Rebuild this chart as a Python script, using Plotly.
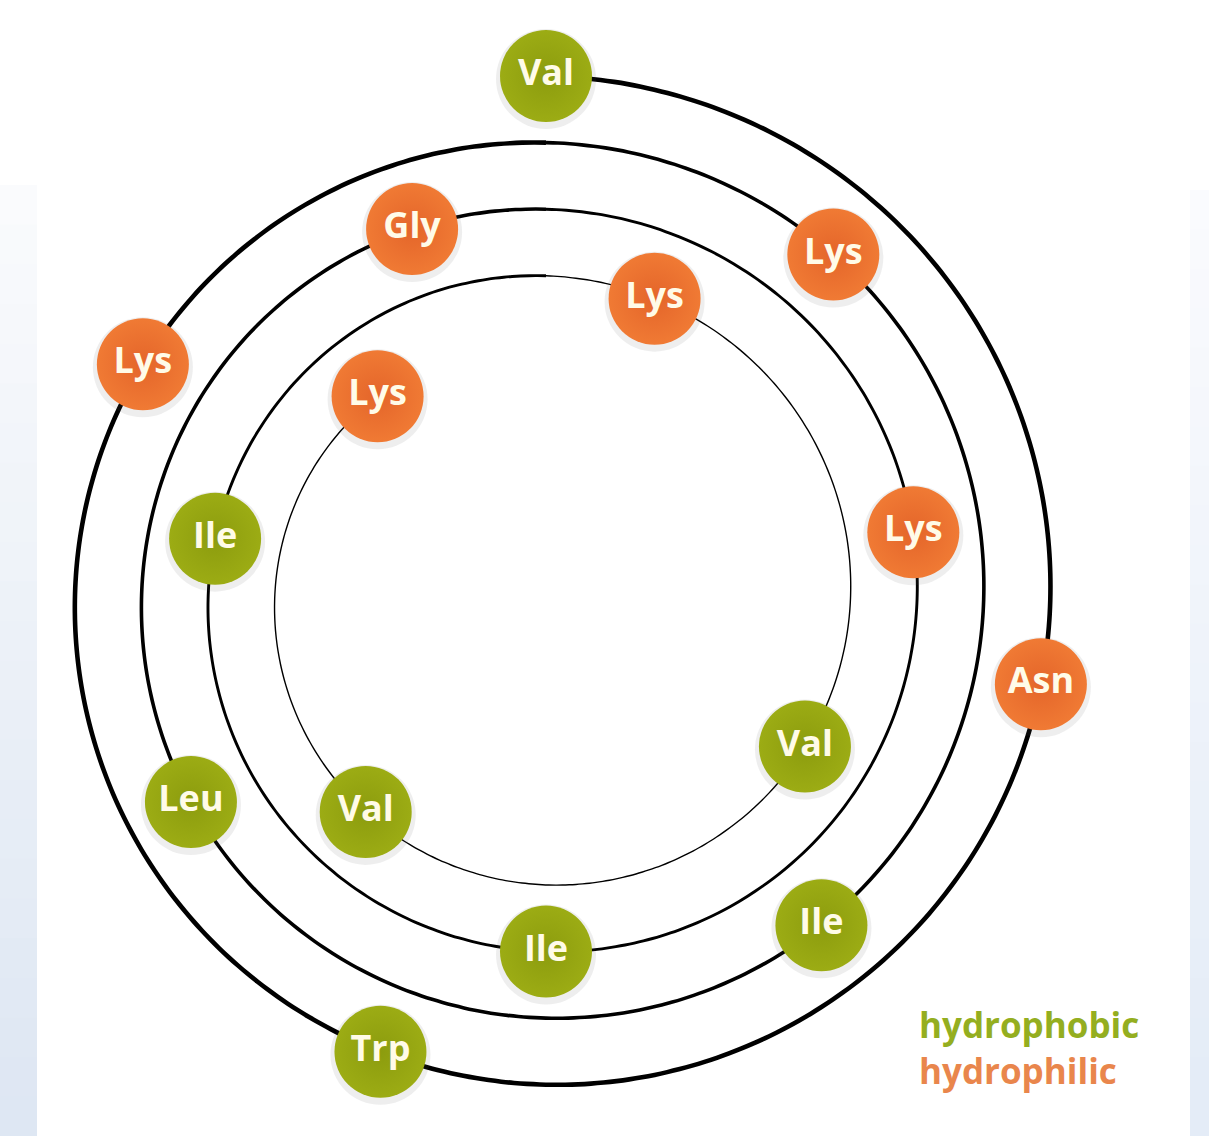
import numpy as np
import plotly.graph_objects as go

# ---- data ----
residues = ["Val", "Asn", "Trp", "Lys", "Lys", "Ile", "Leu", "Gly",
            "Lys", "Ile", "Ile", "Lys", "Val", "Val", "Lys"]
residue_class = ["hydrophobic", "hydrophilic", "hydrophobic", "hydrophilic",
                 "hydrophilic", "hydrophobic", "hydrophobic", "hydrophilic",
                 "hydrophilic", "hydrophobic", "hydrophobic", "hydrophilic",
                 "hydrophobic", "hydrophobic", "hydrophilic"]
legend_labels = ["hydrophobic", "hydrophilic"]
step_deg = 100  # helical wheel rotation per residue

# ---- geometry / style ----
W, H = 1209, 1136
CX, CY = 546, 597
R0 = 521
K = 0.185  # px of radius lost per degree
FILL = {"hydrophobic": "#9cac14", "hydrophilic": "#f07a34"}
EDGE = {"hydrophobic": "#8c9c0e", "hydrophilic": "#e4652a"}
TEXTCOL = {"hydrophobic": "#94ae20", "hydrophilic": "#e9864c"}


def spiral_xy(theta_deg):
    t = np.asarray(theta_deg, dtype=float)
    r = R0 - K * t
    a = np.radians(t)
    return CX + r * np.sin(a), CY - r * np.cos(a)


fig = go.Figure()

# background strips (soft gradient)
shapes = []
nb = 24
for side in ("left", "right"):
    if side == "left":
        x0, x1, y0 = 0, 37, 185
        c_top, c_bot = np.array([250, 251, 253]), np.array([222, 231, 243])
    else:
        x0, x1, y0 = 1190, W, 190
        c_top, c_bot = np.array([250, 251, 254]), np.array([228, 236, 247])
    edges = np.linspace(y0, H, nb + 1)
    for j in range(nb):
        f = j / (nb - 1)
        c = (c_top * (1 - f) + c_bot * f).astype(int)
        shapes.append(dict(type="rect", xref="x", yref="y", x0=x0, x1=x1,
                           y0=edges[j], y1=edges[j + 1] + 1, line=dict(width=0),
                           fillcolor=f"rgb({c[0]},{c[1]},{c[2]})", layer="below"))

# spiral line, thinner on each inner turn
theta_end = step_deg * (len(residues) - 1)
turn_widths = [4.6, 3.6, 2.9, 1.4]
for ti, w in enumerate(turn_widths):
    a0 = ti * 360
    a1 = min((ti + 1) * 360, theta_end)
    if a0 >= a1:
        continue
    th = np.linspace(a0, a1, 240)
    xs, ys = spiral_xy(th)
    fig.add_trace(go.Scatter(x=xs, y=ys, mode="lines",
                             line=dict(color="#000000", width=w, shape="spline"),
                             hoverinfo="skip", showlegend=False))

# residues
theta_res = np.arange(len(residues)) * step_deg
rx, ry = spiral_xy(theta_res)

# soft shadow
fig.add_trace(go.Scatter(x=rx, y=ry + 3, mode="markers",
                         marker=dict(size=100, color="rgba(90,90,90,0.10)",
                                     line=dict(width=0)),
                         hoverinfo="skip", showlegend=False))
for cls in legend_labels:
    idx = [i for i, c in enumerate(residue_class) if c == cls]
    fig.add_trace(go.Scatter(
        x=rx[idx], y=ry[idx], mode="markers+text",
        text=[residues[i] for i in idx],
        textposition="middle center",
        textfont=dict(family="Open Sans", size=36, color="#fffbe8",
                      weight="bold"),
        marker=dict(size=92, color=FILL[cls], line=dict(width=0),
                    gradient=dict(type="radial", color=EDGE[cls])),
        name=cls, showlegend=False, hoverinfo="text"))

# legend text
annotations = []
for j, lab in enumerate(legend_labels):
    annotations.append(dict(x=917, y=1024 + 46 * j, xref="x", yref="y",
                            text=f"<b>{lab}</b>", showarrow=False,
                            xanchor="left", yanchor="middle",
                            font=dict(family="Open Sans", size=35,
                                      color=TEXTCOL[lab])))

fig.update_layout(
    width=W, height=H, margin=dict(l=0, r=0, t=0, b=0),
    paper_bgcolor="white", plot_bgcolor="white",
    xaxis=dict(range=[0, W], visible=False, fixedrange=True),
    yaxis=dict(range=[H, 0], visible=False, fixedrange=True),
    shapes=shapes, annotations=annotations, showlegend=False,
)

fig.write_html("out.html", config={"displayModeBar": False},
               post_script="document.body.style.margin='0';document.body.style.padding='0';")
